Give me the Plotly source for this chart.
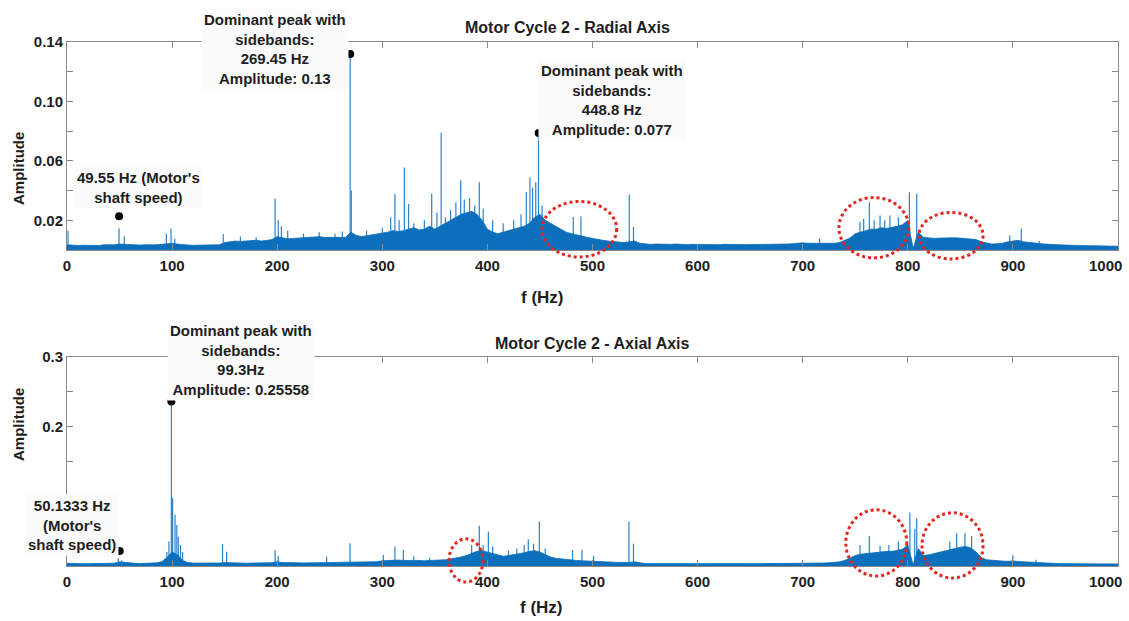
import plotly.graph_objects as go

# ---------------- DATA ----------------
freq_grid = list(range(0, 1001, 5))  # Hz, spectrum body sampled every 5 Hz

radial_band = [
    0.0035, 0.0030, 0.0030, 0.0032, 0.0030, 0.0033, 0.0030, 0.0035, 0.0033, 0.0035,
    0.0040, 0.0038, 0.0035, 0.0035, 0.0033, 0.0035, 0.0033, 0.0035, 0.0038, 0.0040,
    0.0045, 0.0040, 0.0035, 0.0033, 0.0032, 0.0033, 0.0035, 0.0035, 0.0033, 0.0035,
    0.0050, 0.0055, 0.0060, 0.0058, 0.0060, 0.0062, 0.0065, 0.0060, 0.0065, 0.0070,
    0.0090, 0.0085, 0.0075, 0.0078, 0.0080, 0.0082, 0.0085, 0.0088, 0.0090, 0.0085,
    0.0085, 0.0088, 0.0090, 0.0085, 0.0120, 0.0100, 0.0090, 0.0095, 0.0100, 0.0105,
    0.0110, 0.0120, 0.0130, 0.0125, 0.0130, 0.0140, 0.0150, 0.0135, 0.0140, 0.0160,
    0.0140, 0.0160, 0.0180, 0.0200, 0.0220, 0.0240, 0.0250, 0.0260, 0.0240, 0.0200,
    0.0140, 0.0120, 0.0110, 0.0120, 0.0130, 0.0140, 0.0150, 0.0160, 0.0180, 0.0220,
    0.0240, 0.0200, 0.0180, 0.0160, 0.0140, 0.0120, 0.0110, 0.0100, 0.0095, 0.0085,
    0.0078, 0.0070, 0.0065, 0.0060, 0.0055, 0.0055, 0.0050, 0.0055, 0.0060, 0.0045,
    0.0040, 0.0038, 0.0040, 0.0038, 0.0036, 0.0038, 0.0040, 0.0037, 0.0036, 0.0038,
    0.0037, 0.0036, 0.0038, 0.0037, 0.0036, 0.0038, 0.0036, 0.0035, 0.0037, 0.0036,
    0.0036, 0.0038, 0.0037, 0.0036, 0.0038, 0.0040, 0.0039, 0.0040, 0.0042, 0.0045,
    0.0048, 0.0045, 0.0043, 0.0045, 0.0045, 0.0043, 0.0045, 0.0050, 0.0065, 0.0080,
    0.0110, 0.0120, 0.0130, 0.0140, 0.0140, 0.0150, 0.0145, 0.0150, 0.0160, 0.0170,
    0.0200, 0.0010, 0.0120, 0.0085, 0.0080, 0.0078, 0.0080, 0.0082, 0.0080, 0.0082,
    0.0080, 0.0078, 0.0075, 0.0070, 0.0055, 0.0045, 0.0040, 0.0042, 0.0045, 0.0055,
    0.0060, 0.0065, 0.0055, 0.0050, 0.0045, 0.0042, 0.0040, 0.0038, 0.0035, 0.0035,
    0.0033, 0.0032, 0.0030, 0.0030, 0.0029, 0.0028, 0.0028, 0.0027, 0.0027, 0.0026,
    0.0025,
]

radial_peak_f = [1, 49.5, 54.5, 94.5, 99, 102.5, 148.7, 165, 180, 198, 201, 204, 210, 225,
                 240, 255, 262, 269.4, 270.5, 285, 300, 308, 312, 316, 321, 325, 330, 340,
                 347, 352, 356, 360, 365, 370, 374.6, 378, 383, 388, 392.3, 396, 405, 415,
                 425, 432, 437, 440.5, 443, 446, 448.6, 452, 481.7, 489, 535, 539, 716,
                 754.5, 758, 763.4, 768, 773.6, 778, 783, 791, 801.5, 808.5, 897, 908, 925]
radial_peak_a = [0.013, 0.0147, 0.0093, 0.011, 0.0144, 0.0075, 0.0107, 0.009, 0.0085, 0.0345,
                 0.020, 0.016, 0.013, 0.011, 0.012, 0.011, 0.0125, 0.132, 0.040, 0.013, 0.015,
                 0.022, 0.0378, 0.020, 0.0556, 0.031, 0.018, 0.020, 0.038, 0.025, 0.0789,
                 0.022, 0.027, 0.032, 0.047, 0.034, 0.035, 0.030, 0.0456, 0.028, 0.020, 0.018,
                 0.020, 0.024, 0.039, 0.0489, 0.042, 0.0456, 0.077, 0.030, 0.0222, 0.0225,
                 0.0373, 0.0156, 0.0078, 0.019, 0.021, 0.0322, 0.020, 0.0233, 0.020, 0.0233,
                 0.022, 0.0389, 0.0378, 0.010, 0.0144, 0.006]

axial_band = [
    0.0040, 0.0035, 0.0033, 0.0032, 0.0033, 0.0035, 0.0033, 0.0035, 0.0036, 0.0040,
    0.0060, 0.0050, 0.0040, 0.0038, 0.0036, 0.0038, 0.0040, 0.0045, 0.0060, 0.0120,
    0.0200, 0.0160, 0.0080, 0.0050, 0.0042, 0.0040, 0.0038, 0.0038, 0.0040, 0.0042,
    0.0050, 0.0045, 0.0042, 0.0040, 0.0040, 0.0042, 0.0040, 0.0042, 0.0045, 0.0048,
    0.0060, 0.0050, 0.0045, 0.0042, 0.0045, 0.0044, 0.0045, 0.0046, 0.0045, 0.0048,
    0.0050, 0.0048, 0.0050, 0.0052, 0.0055, 0.0054, 0.0056, 0.0058, 0.0060, 0.0062,
    0.0075, 0.0080, 0.0090, 0.0085, 0.0080, 0.0082, 0.0085, 0.0080, 0.0075, 0.0078,
    0.0080, 0.0085, 0.0090, 0.0100, 0.0110, 0.0130, 0.0150, 0.0180, 0.0210, 0.0220,
    0.0200, 0.0170, 0.0150, 0.0140, 0.0150, 0.0160, 0.0180, 0.0190, 0.0210, 0.0220,
    0.0200, 0.0160, 0.0130, 0.0110, 0.0100, 0.0090, 0.0085, 0.0080, 0.0075, 0.0070,
    0.0068, 0.0062, 0.0060, 0.0058, 0.0055, 0.0052, 0.0050, 0.0052, 0.0060, 0.0045,
    0.0035, 0.0034, 0.0033, 0.0034, 0.0033, 0.0032, 0.0033, 0.0034, 0.0033, 0.0032,
    0.0033, 0.0032, 0.0033, 0.0034, 0.0033, 0.0032, 0.0033, 0.0032, 0.0033, 0.0034,
    0.0033, 0.0034, 0.0033, 0.0035, 0.0034, 0.0035, 0.0036, 0.0035, 0.0036, 0.0038,
    0.0040, 0.0038, 0.0038, 0.0040, 0.0042, 0.0045, 0.0050, 0.0060, 0.0080, 0.0120,
    0.0150, 0.0170, 0.0180, 0.0190, 0.0200, 0.0200, 0.0210, 0.0210, 0.0220, 0.0240,
    0.0300, 0.0020, 0.0250, 0.0150, 0.0160, 0.0180, 0.0200, 0.0220, 0.0240, 0.0260,
    0.0270, 0.0280, 0.0260, 0.0200, 0.0120, 0.0090, 0.0080, 0.0075, 0.0070, 0.0068,
    0.0072, 0.0065, 0.0060, 0.0058, 0.0050, 0.0045, 0.0040, 0.0037, 0.0035, 0.0034,
    0.0033, 0.0032, 0.0033, 0.0032, 0.0031, 0.0032, 0.0031, 0.0030, 0.0031, 0.0030,
    0.0030,
]

axial_peak_f = [48.8, 52, 95, 97, 99.3, 100.5, 102.8, 104.5, 105.9, 108, 110, 148, 151.9,
                198, 201, 247, 269.3, 301, 312, 320, 330, 345, 385, 392.3, 396, 400.9, 405,
                420, 428, 435, 438.9, 444, 449.4, 455, 481, 490, 501, 534.7, 539, 754.5,
                763.4, 773.6, 782, 791, 802, 806.6, 808.5, 840, 846.5, 854.4, 860.7, 900, 922]
axial_peak_a = [0.011, 0.008, 0.020, 0.035, 0.237, 0.0975, 0.0735, 0.059, 0.042, 0.030,
                0.020, 0.0317, 0.0206, 0.023, 0.0144, 0.0134, 0.0327, 0.0159, 0.0279, 0.0235,
                0.014, 0.012, 0.030, 0.0576, 0.030, 0.0494, 0.028, 0.022, 0.025, 0.030,
                0.0384, 0.032, 0.0639, 0.025, 0.0232, 0.0232, 0.0144, 0.0639, 0.032, 0.030,
                0.0432, 0.029, 0.030, 0.035, 0.0768, 0.053, 0.0687, 0.035, 0.047, 0.047,
                0.043, 0.0154, 0.009]

# marked points (frequency, amplitude)
radial_marks_f = [49.55, 269.45, 448.8]
radial_marks_a = [0.0227, 0.132, 0.0787]
axial_marks_f = [99.3, 50.1333]
axial_marks_a = [0.236, 0.0216]

# highlighted regions (freq min, freq max, amp min, amp max)
radial_regions = [(452, 523, -0.0047, 0.0327), (734.5, 801, -0.0053, 0.0353),
                  (810.7, 871.6, -0.006, 0.0253)]
axial_regions = [(363.5, 395.8, -0.023, 0.039), (741, 799, -0.0144, 0.0807),
                 (813.5, 871.6, -0.0173, 0.0764)]

x_ticks = list(range(0, 1001, 100))
x_ticktext = [str(v) for v in range(0, 901, 100)] + [""]   # "1000" drawn right-aligned below
x_last_label = "1000"
radial_yticks = [0.02, 0.06, 0.10, 0.14]
radial_yticktext = ["0.02", "0.06", "0.10", "0.14"]
radial_yminor = [0.04, 0.08, 0.12]
axial_yticks = [0.1, 0.2, 0.3]
axial_yticktext = ["", "0.2", "0.3"]
axial_yminor = [0.05, 0.15, 0.25]

# ---------------- STYLE ----------------
W, H = 1129, 621
ML, MR, MT, MB = 67, 11, 42, 55
PW, PH = W - ML - MR, H - MT - MB
BLUE = "#0b6fbb"
SPIKE = "#2a82c9"
FONT = "Liberation Sans, Arial, sans-serif"
TXT = "#1e1e1e"
AXC = "#8a8a8a"

TOP_DOM = [(566 - 250) / PH, 1.0]
BOT_DOM = [0.0, (566 - 357) / PH]
YMAX_TOP, YMAX_BOT = 0.14, 0.3


def pxx(x):
    return (x - ML) / PW


def pxy(y):
    return (H - MB - y) / PH


def spikes(fs, amps):
    xs, ys = [], []
    for f, a in zip(fs, amps):
        xs += [f, f, None]
        ys += [0, a, None]
    return xs, ys


fig = go.Figure()

for band, pf, pa, xa, ya in [
    (radial_band, radial_peak_f, radial_peak_a, "x", "y"),
    (axial_band, axial_peak_f, axial_peak_a, "x2", "y2"),
]:
    sx, sy = spikes(pf, pa)
    fig.add_trace(go.Scatter(x=sx, y=sy, mode="lines", line=dict(color=SPIKE, width=1.2),
                             xaxis=xa, yaxis=ya, hoverinfo="skip", showlegend=False))
    fig.add_trace(go.Scatter(x=freq_grid, y=band, mode="lines", fill="tozeroy",
                             line=dict(color=BLUE, width=0.8), fillcolor=BLUE,
                             xaxis=xa, yaxis=ya, hoverinfo="skip", showlegend=False))

fig.add_trace(go.Scatter(x=radial_marks_f, y=radial_marks_a, mode="markers",
                         marker=dict(color="black", size=8), xaxis="x", yaxis="y",
                         showlegend=False))
fig.add_trace(go.Scatter(x=axial_marks_f, y=axial_marks_a, mode="markers",
                         marker=dict(color="black", size=8), xaxis="x2", yaxis="y2",
                         showlegend=False))

tickfont = dict(family=FONT, size=15, color=TXT, weight="bold")
common_x = dict(range=[0, 1000], tickvals=x_ticks, ticktext=x_ticktext, ticks="inside",
                ticklen=6, tickcolor=AXC, showline=True, linecolor=AXC, linewidth=1,
                mirror="ticks", showgrid=False, zeroline=False, tickfont=tickfont,
                ticklabelstandoff=2, automargin=False)
common_y = dict(ticks="inside", ticklen=6, tickcolor=AXC, showline=True, linecolor=AXC,
                linewidth=1, mirror="ticks", showgrid=False, zeroline=False,
                tickfont=tickfont, automargin=False)

fig.update_layout(
    width=W, height=H, margin=dict(l=ML, r=MR, t=MT, b=MB, autoexpand=False),
    paper_bgcolor="white", plot_bgcolor="white", showlegend=False,
    xaxis=dict(common_x, domain=[0, 1], anchor="y"),
    yaxis=dict(common_y, domain=TOP_DOM, range=[0, YMAX_TOP], anchor="x",
               tickvals=radial_yticks, ticktext=radial_yticktext,
               minor=dict(tickvals=radial_yminor, ticks="inside", ticklen=6,
                          tickcolor=AXC)),
    xaxis2=dict(common_x, domain=[0, 1], anchor="y2"),
    yaxis2=dict(common_y, domain=BOT_DOM, range=[0, YMAX_BOT], anchor="x2",
                tickvals=axial_yticks, ticktext=axial_yticktext,
                minor=dict(tickvals=axial_yminor, ticks="inside", ticklen=6,
                           tickcolor=AXC)),
)

# region ellipses
shapes = []
for regions, dom, ymax in [(radial_regions, TOP_DOM, YMAX_TOP), (axial_regions, BOT_DOM, YMAX_BOT)]:
    for f0, f1, a0, a1 in regions:
        shapes.append(dict(type="circle", xref="paper", yref="paper",
                           x0=f0 / 1000, x1=f1 / 1000,
                           y0=dom[0] + a0 / ymax * (dom[1] - dom[0]),
                           y1=dom[0] + a1 / ymax * (dom[1] - dom[0]),
                           line=dict(color="#e5251f", width=3, dash="dot"), layer="above"))
fig.update_layout(shapes=shapes)

ann = []


def text(t, x, y, size=15, bg=None, angle=0, xanchor="center"):
    d = dict(text=t, xref="paper", yref="paper", x=pxx(x), y=pxy(y), xanchor=xanchor,
             yanchor="middle", showarrow=False, align="center", textangle=angle,
             font=dict(family=FONT, size=size, color=TXT, weight="bold"))
    if bg:
        d.update(bgcolor=bg, borderpad=2)
    ann.append(d)


text("Motor Cycle 2 - Radial Axis", 567, 27, size=16)
text("Motor Cycle 2 - Axial Axis", 592, 343, size=16)
text("f (Hz)", 542, 297, size=17)
text("f (Hz)", 541, 607, size=17)
text("Amplitude", 18, 169, size=15, angle=-90)
text("Amplitude", 18, 425, size=15, angle=-90)
text(x_last_label, 1124, 265, xanchor="right")
text(x_last_label, 1124, 581, xanchor="right")
BG = "#fbfbfb"
text("Dominant peak with<br>sidebands:<br>269.45 Hz<br>Amplitude: 0.13", 275, 49, bg=BG)
text("Dominant peak with<br>sidebands:<br>448.8 Hz<br>Amplitude: 0.077", 612, 100, bg=BG)
text("49.55 Hz (Motor's<br>shaft speed)", 138, 187, bg=BG)
text("Dominant peak with<br>sidebands:<br>99.3Hz<br>Amplitude: 0.25558", 241, 360, bg=BG)
text("50.1333 Hz<br>(Motor's<br>shaft speed)", 72, 525, bg=BG)
fig.update_layout(annotations=ann)

fig.write_html("out.html", config={"displayModeBar": False},
               post_script="document.body.style.margin='0';document.body.style.overflow='hidden';")
